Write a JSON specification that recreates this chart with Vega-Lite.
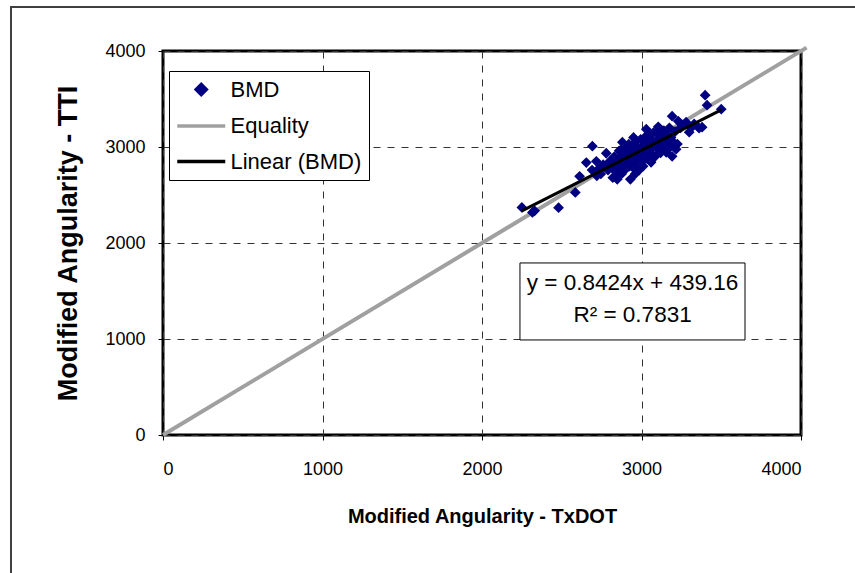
{
  "$schema": "https://vega.github.io/schema/vega-lite/v6.json",
  "width": 638,
  "height": 384,
  "autosize": {"type": "none"},
  "padding": {"left": 163, "top": 51, "right": 54, "bottom": 138},
  "background": "#ffffff",
  "config": {
    "font": "Liberation Sans",
    "view": {"stroke": "#000000", "strokeWidth": 3},
    "axis": {
      "domain": false,
      "grid": true,
      "gridColor": "#333333",
      "gridDash": [7, 7],
      "gridWidth": 1,
      "ticks": true,
      "tickColor": "#000000",
      "tickSize": 5,
      "tickWidth": 1,
      "labelFont": "Liberation Sans",
      "labelFontSize": 18,
      "labelColor": "#000000",
      "titleFont": "Liberation Sans",
      "titleFontWeight": "bold",
      "titleColor": "#000000"
    }
  },
  "datasets": {
    "bmd": [
      {"x": 2250, "y": 2370}, {"x": 2316, "y": 2318}, {"x": 2330, "y": 2335}, {"x": 2480, "y": 2368},
      {"x": 2585, "y": 2527}, {"x": 2612, "y": 2695}, {"x": 2654, "y": 2838}, {"x": 2692, "y": 3008},
      {"x": 2690, "y": 2760}, {"x": 2717, "y": 2851}, {"x": 2730, "y": 2770}, {"x": 2745, "y": 2720},
      {"x": 2760, "y": 2815}, {"x": 2779, "y": 2935}, {"x": 2790, "y": 2760}, {"x": 2800, "y": 2850},
      {"x": 2815, "y": 2790}, {"x": 2830, "y": 2900}, {"x": 2840, "y": 2740}, {"x": 2848, "y": 2663},
      {"x": 2850, "y": 2830}, {"x": 2860, "y": 2960}, {"x": 2865, "y": 2880}, {"x": 2870, "y": 2790},
      {"x": 2880, "y": 2930}, {"x": 2885, "y": 2850}, {"x": 2890, "y": 3000}, {"x": 2895, "y": 2760},
      {"x": 2900, "y": 2900}, {"x": 2905, "y": 2820}, {"x": 2910, "y": 2960}, {"x": 2915, "y": 2870},
      {"x": 2920, "y": 3030}, {"x": 2925, "y": 2800}, {"x": 2930, "y": 2663}, {"x": 2935, "y": 2930},
      {"x": 2940, "y": 2860}, {"x": 2945, "y": 2990}, {"x": 2950, "y": 2780}, {"x": 2955, "y": 2900},
      {"x": 2960, "y": 3050}, {"x": 2965, "y": 2950}, {"x": 2970, "y": 2840}, {"x": 2975, "y": 3000},
      {"x": 2980, "y": 2890}, {"x": 2985, "y": 2760}, {"x": 2990, "y": 2960}, {"x": 2995, "y": 3080},
      {"x": 3000, "y": 2920}, {"x": 3005, "y": 2850}, {"x": 3010, "y": 3010}, {"x": 3015, "y": 2940},
      {"x": 3020, "y": 3100}, {"x": 3025, "y": 2980}, {"x": 3030, "y": 3185}, {"x": 3035, "y": 2880},
      {"x": 3040, "y": 3040}, {"x": 3045, "y": 2960}, {"x": 3050, "y": 3120}, {"x": 3055, "y": 3000},
      {"x": 3060, "y": 2920}, {"x": 3065, "y": 3070}, {"x": 3070, "y": 2990}, {"x": 3075, "y": 3150},
      {"x": 3080, "y": 3030}, {"x": 3085, "y": 2900}, {"x": 3092, "y": 3154}, {"x": 3095, "y": 3060},
      {"x": 3100, "y": 2980}, {"x": 3105, "y": 3210}, {"x": 3110, "y": 3090}, {"x": 3115, "y": 3020},
      {"x": 3120, "y": 2940}, {"x": 3125, "y": 3130}, {"x": 3130, "y": 3050}, {"x": 3140, "y": 3170},
      {"x": 3145, "y": 2990}, {"x": 3150, "y": 3080}, {"x": 3155, "y": 2945}, {"x": 3160, "y": 3120},
      {"x": 3170, "y": 3040}, {"x": 3175, "y": 3200}, {"x": 3180, "y": 3000}, {"x": 3185, "y": 3100},
      {"x": 3192, "y": 3321}, {"x": 3192, "y": 2903}, {"x": 3200, "y": 3050}, {"x": 3210, "y": 3160},
      {"x": 3217, "y": 2977}, {"x": 3225, "y": 3030}, {"x": 3230, "y": 3270}, {"x": 3245, "y": 3200},
      {"x": 3260, "y": 3230}, {"x": 3280, "y": 3258}, {"x": 3299, "y": 3154}, {"x": 3311, "y": 3200},
      {"x": 3330, "y": 3240}, {"x": 3361, "y": 3196}, {"x": 3380, "y": 3206}, {"x": 3399, "y": 3540},
      {"x": 3411, "y": 3436}, {"x": 3500, "y": 3394}, {"x": 2820, "y": 2680}, {"x": 2875, "y": 2720},
      {"x": 2960, "y": 2720}, {"x": 3010, "y": 2800}, {"x": 3060, "y": 2840}, {"x": 2950, "y": 3100},
      {"x": 2880, "y": 3050}, {"x": 2720, "y": 2700}
    ],
    "equality": [
      {"x": 0, "y": 0},
      {"x": 4035, "y": 4035}
    ],
    "linear": [
      {"x": 2247, "y": 2332},
      {"x": 3500, "y": 3387}
    ],
    "one": [{}]
  },
  "layer": [
    {
      "data": {"name": "one"},
      "mark": {"type": "rect", "filled": false, "stroke": "#404040", "strokeWidth": 2, "clip": false},
      "encoding": {
        "x": {"datum": -953, "type": "quantitative"},
        "x2": {"datum": 5600},
        "y": {"datum": 4458, "type": "quantitative"},
        "y2": {"datum": -2500}
      }
    },
    {
      "data": {"name": "equality"},
      "mark": {"type": "line", "strokeWidth": 4, "color": "#A0A0A0", "clip": false},
      "encoding": {
        "x": {"field": "x", "type": "quantitative"},
        "y": {"field": "y", "type": "quantitative"}
      }
    },
    {
      "data": {"name": "bmd"},
      "mark": {"type": "point", "filled": false, "fill": "#000080", "fillOpacity": 1, "size": 34, "opacity": 1, "strokeWidth": 3.5},
      "encoding": {
        "x": {
          "field": "x", "type": "quantitative",
          "scale": {"domain": [0, 4000], "nice": false, "zero": false},
          "axis": {"title": "Modified Angularity - TxDOT", "values": [0, 1000, 2000, 3000, 4000], "format": "d", "labelPadding": 20, "titleFontSize": 20, "titleX": 319, "titleY": 87, "titleAlign": "center", "titleBaseline": "alphabetic"}
        },
        "y": {
          "field": "y", "type": "quantitative",
          "scale": {"domain": [0, 4000], "nice": false, "zero": false},
          "axis": {"title": "Modified Angularity - TTI", "values": [0, 1000, 2000, 3000, 4000], "format": "d", "labelPadding": 13, "titleFontSize": 27, "titleX": -87, "titleY": 192, "titleAngle": -90, "titleAlign": "center", "titleBaseline": "alphabetic"}
        },
        "color": {
          "datum": "BMD", "type": "nominal",
          "scale": {"domain": ["BMD", "Equality", "Linear (BMD)"], "range": ["#000080", "#A0A0A0", "#000000"]},
          "legend": {
            "title": null, "orient": "none", "legendX": 6, "legendY": 20, "direction": "vertical",
            "fillColor": "#ffffff", "strokeColor": "#000000", "padding": 7.5,
            "labelFontSize": 22, "labelFont": "Liberation Sans", "labelColor": "#000000",
            "symbolSize": 100, "symbolOffset": 13.75, "labelOffset": 18.25, "rowPadding": 13.5, "symbolStrokeWidth": 3.5
          }
        },
        "shape": {
          "datum": "BMD", "type": "nominal",
          "scale": {"domain": ["BMD", "Equality", "Linear (BMD)"], "range": ["diamond", "M-4.8,0L4.8,0", "M-4.8,0L4.8,0"]},
          "legend": {
            "title": null, "orient": "none", "legendX": 6, "legendY": 20, "direction": "vertical",
            "fillColor": "#ffffff", "strokeColor": "#000000", "padding": 7.5,
            "labelFontSize": 22, "labelFont": "Liberation Sans", "labelColor": "#000000",
            "symbolSize": 100, "symbolOffset": 13.75, "labelOffset": 18.25, "rowPadding": 13.5, "symbolStrokeWidth": 3.5
          }
        }
      }
    },
    {
      "data": {"name": "linear"},
      "mark": {"type": "line", "strokeWidth": 3, "color": "#000000"},
      "encoding": {
        "x": {"field": "x", "type": "quantitative"},
        "y": {"field": "y", "type": "quantitative"}
      }
    },
    {
      "data": {"name": "one"},
      "mark": {"type": "rect", "fill": "#ffffff", "stroke": "#000000", "strokeWidth": 1},
      "encoding": {
        "x": {"datum": 2238, "type": "quantitative"},
        "x2": {"datum": 3649},
        "y": {"datum": 1792, "type": "quantitative"},
        "y2": {"datum": 990}
      }
    },
    {
      "data": {"name": "one"},
      "mark": {"type": "text", "text": ["y = 0.8424x + 439.16", "R² = 0.7831"], "font": "Liberation Sans", "fontSize": 22.5, "lineHeight": 32, "align": "center", "baseline": "middle", "color": "#000000"},
      "encoding": {
        "x": {"datum": 2944, "type": "quantitative"},
        "y": {"datum": 1584, "type": "quantitative"}
      }
    }
  ]
}
